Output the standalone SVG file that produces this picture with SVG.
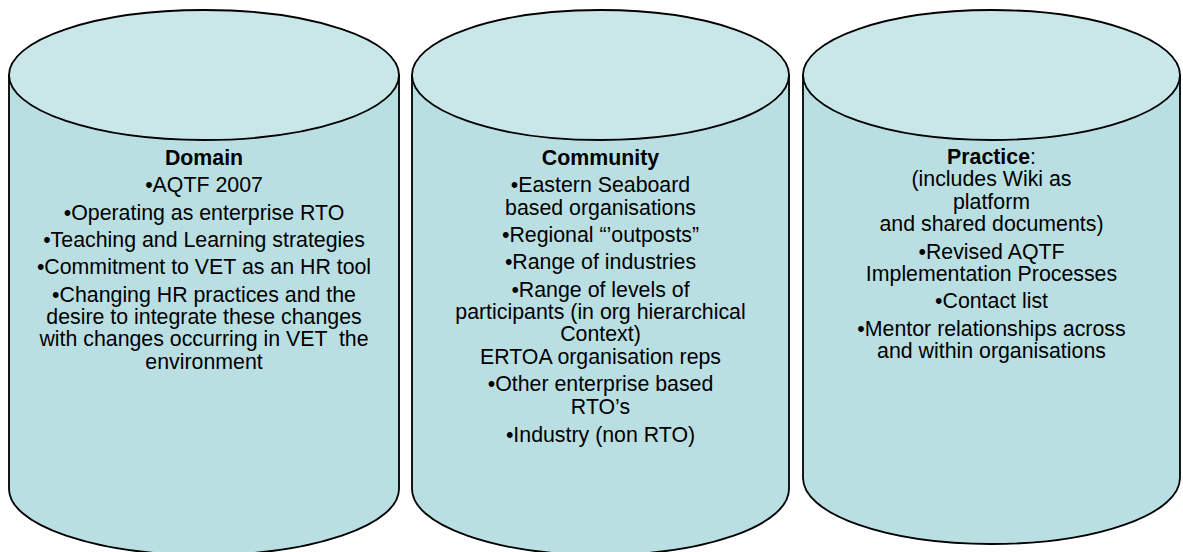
<svg xmlns="http://www.w3.org/2000/svg" width="1183" height="552" viewBox="0 0 1183 552">
<style>
.body{fill:#BADFE3;stroke:#000;stroke-width:1.8;stroke-linejoin:round}
.top{fill:#C9E6E9;stroke:#000;stroke-width:1.8}
text{font-family:"Liberation Sans",Arial,sans-serif;font-size:21.33px;fill:#000;text-anchor:middle;white-space:pre}
.b{font-weight:bold}
</style>
<rect width="1183" height="552" fill="#fff"/>
<g id="connectors"/>
<g id="domain">
<path class="body" d="M9 75 V489 A195 66 0 0 0 399 489 V75 Z"/>
<ellipse class="top" cx="204" cy="75" rx="195" ry="65"/>
<text x="204" y="165" class="b">Domain</text>
<text x="204" y="192.3">•AQTF 2007</text>
<text x="204" y="219.6">•Operating as enterprise RTO</text>
<text x="204" y="246.9">•Teaching and Learning strategies</text>
<text x="204" y="274.2">•Commitment to VET as an HR tool</text>
<text x="204" y="301.5">•Changing HR practices and the</text>
<text x="204" y="323.9">desire to integrate these changes</text>
<text x="204" y="346.3">with changes occurring in VET  the</text>
<text x="204" y="368.7">environment</text>
</g>
<g id="community">
<path class="body" d="M412 75 V489 A188.5 66 0 0 0 789 489 V75 Z"/>
<ellipse class="top" cx="600.5" cy="75" rx="188.5" ry="65"/>
<text x="600.5" y="165" class="b">Community</text>
<text x="600.5" y="192.3">•Eastern Seaboard</text>
<text x="600.5" y="214.7">based organisations</text>
<text x="600.5" y="242">•Regional “’outposts”</text>
<text x="600.5" y="269.3">•Range of industries</text>
<text x="600.5" y="296.6">•Range of levels of</text>
<text x="600.5" y="319">participants (in org hierarchical</text>
<text x="600.5" y="341.4">Context)</text>
<text x="600.5" y="363.8">ERTOA organisation reps</text>
<text x="600.5" y="391.1">•Other enterprise based</text>
<text x="600.5" y="413.5">RTO’s</text>
<text x="600.5" y="441.5">•Industry (non RTO)</text>
</g>
<g id="practice">
<path class="body" d="M803 75 V478 A188.5 66 0 0 0 1180 478 V75 Z"/>
<ellipse class="top" cx="991.5" cy="75" rx="188.5" ry="65"/>
<text x="991.5" y="164"><tspan class="b">Practice</tspan>:</text>
<text x="991.5" y="186.4">(includes Wiki as</text>
<text x="991.5" y="208.8">platform</text>
<text x="991.5" y="231.2">and shared documents)</text>
<text x="991.5" y="258.5">•Revised AQTF</text>
<text x="991.5" y="280.9">Implementation Processes</text>
<text x="991.5" y="308.2">•Contact list</text>
<text x="991.5" y="335.5">•Mentor relationships across</text>
<text x="991.5" y="357.9">and within organisations</text>
</g>
</svg>
